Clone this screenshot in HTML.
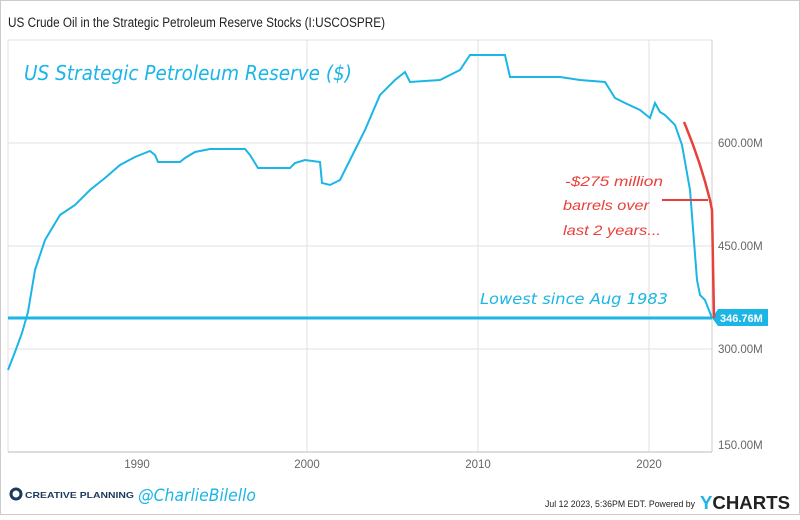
<!DOCTYPE html>
<html><head><style>
body{margin:0;background:#fff;}
svg text{font-family:"Liberation Sans",sans-serif;}
.hand{font-family:"DejaVu Sans",sans-serif;font-style:italic;}
</style></head><body>
<svg width="800" height="515" xmlns="http://www.w3.org/2000/svg">
<rect x="0.5" y="0.5" width="799" height="514" fill="#fff" stroke="#ccc"/>
<text x="8" y="27" font-size="13.5" fill="#222" textLength="377" lengthAdjust="spacingAndGlyphs">US Crude Oil in the Strategic Petroleum Reserve Stocks (I:USCOSPRE)</text>
<g stroke="#e2e2e2" stroke-width="1">
<line x1="8" y1="40" x2="712" y2="40"/>
<line x1="8" y1="143" x2="712" y2="143"/>
<line x1="8" y1="246" x2="712" y2="246"/>
<line x1="8" y1="349" x2="712" y2="349"/>
<line x1="307" y1="40" x2="307" y2="452"/>
<line x1="478" y1="40" x2="478" y2="452"/>
<line x1="649" y1="40" x2="649" y2="452"/>
<line x1="712" y1="40" x2="712" y2="452" stroke="#ccc"/>
<line x1="8" y1="40" x2="8" y2="452"/>
</g>
<line x1="8" y1="452" x2="712" y2="452" stroke="#bbb"/>
<g font-size="11.5" fill="#666">
<text x="718" y="147">600.00M</text>
<text x="718" y="250">450.00M</text>
<text x="718" y="353">300.00M</text>
<text x="718" y="449">150.00M</text>
<text x="137" y="468" text-anchor="middle">1990</text>
<text x="307" y="468" text-anchor="middle">2000</text>
<text x="478" y="468" text-anchor="middle">2010</text>
<text x="649" y="468" text-anchor="middle">2020</text>
</g>
<polyline fill="none" stroke="#1bb5e6" stroke-width="2" points="8,370 15,352 22,333 28,312 35,270 45,240 60,215 75,205 90,190 105,178 120,165 135,157 150,151 155,155 158,162 180,162 185,158 195,152 210,149 245,149 250,155 258,168 290,168 295,163 305,160 320,162 322,183 330,185 340,180 350,160 365,130 380,95 395,80 405,72 410,82 440,80 460,70 470,55 505,55 510,77 560,77 580,80 605,82 615,98 625,103 640,110 650,118 655,103 660,112 665,115 675,125 682,145 690,190 697,280 700,295 705,300 712,318"/>
<line x1="8" y1="318" x2="712" y2="318" stroke="#1bb5e6" stroke-width="3"/>
<polygon points="712,318 718,309 768,309 768,326 718,326" fill="#1bb5e6"/>
<text x="720" y="322" font-size="11" font-weight="bold" fill="#fff">346.76M</text>
<path d="M684,122 Q700,160 710,200 L712,210 L714,318" fill="none" stroke="#e8403a" stroke-width="2.5"/>
<line x1="662" y1="200" x2="708" y2="200" stroke="#e8403a" stroke-width="2"/>
<text class="hand" x="24" y="80" font-size="20" fill="#1bb5e6" textLength="328" lengthAdjust="spacingAndGlyphs">US Strategic Petroleum Reserve ($)</text>
<text class="hand" x="480" y="304" font-size="15" fill="#1bb5e6" textLength="188" lengthAdjust="spacingAndGlyphs">Lowest since Aug 1983</text>
<g class="hand" font-size="14" fill="#e8403a">
<text x="565" y="186" textLength="98" lengthAdjust="spacingAndGlyphs">-$275 million</text>
<text x="563" y="210" textLength="86" lengthAdjust="spacingAndGlyphs">barrels over</text>
<text x="563" y="235" textLength="98" lengthAdjust="spacingAndGlyphs">last 2 years...</text>
</g>
<circle cx="16" cy="494" r="5" fill="none" stroke="#1a3a5c" stroke-width="3"/>
<text x="25" y="498" font-size="8.5" font-weight="bold" fill="#1a3a5c" textLength="109" lengthAdjust="spacingAndGlyphs">CREATIVE PLANNING</text>
<text class="hand" x="138" y="501" font-size="17" fill="#1bb5e6" textLength="118" lengthAdjust="spacingAndGlyphs">@CharlieBilello</text>
<text x="545" y="507" font-size="9" fill="#222" textLength="150" lengthAdjust="spacingAndGlyphs">Jul 12 2023, 5:36PM EDT.  Powered by</text>
<text x="700" y="509" font-size="18" font-weight="bold" fill="#222" textLength="90" lengthAdjust="spacingAndGlyphs"><tspan fill="#1bb5e6">Y</tspan>CHARTS</text>
</svg>
</body></html>
